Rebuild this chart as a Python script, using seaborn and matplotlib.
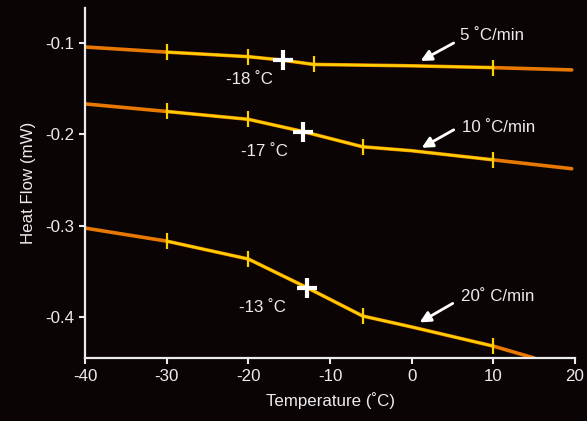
import numpy as np
import pandas as pd
import matplotlib
matplotlib.use("Agg")
import matplotlib.pyplot as plt
import seaborn as sns

# ---- data ----
rates = ["5 ˚C/min", "10 ˚C/min", "20˚ C/min"]
temp_5 = [-40, -30, -20, -16, -12, 0, 10, 19.6]
flow_5 = [-0.1044, -0.110, -0.115, -0.1186, -0.1235, -0.125, -0.127, -0.1295]
temp_10 = [-40, -30, -20, -13.3, -6, 0, 10, 19.6]
flow_10 = [-0.1667, -0.175, -0.1836, -0.197, -0.2137, -0.218, -0.228, -0.2377]
temp_20 = [-40, -30, -20, -12.8, -6, 0, 10, 15]
flow_20 = [-0.3027, -0.317, -0.3366, -0.368, -0.399, -0.411, -0.432, -0.445]

# analysis tick marks on the curves
mark_t_5 = [-30, -20, -12, 10]
mark_f_5 = [-0.110, -0.115, -0.1235, -0.127]
mark_t_10 = [-30, -20, -6, 10]
mark_f_10 = [-0.175, -0.1836, -0.2137, -0.228]
mark_t_20 = [-30, -20, -6, 10]
mark_f_20 = [-0.317, -0.3366, -0.399, -0.432]

# glass transition points
tg_t = [-15.8, -13.3, -12.8]
tg_f = [-0.1186, -0.197, -0.368]
tg_labels = ["-18 ˚C", "-17 ˚C", "-13 ˚C"]

x_ticks = [-40, -30, -20, -10, 0, 10, 20]
y_ticks = [-0.1, -0.2, -0.3, -0.4]

BG = "#0a0405"
FG = "#ececec"
ORANGE = "#e87800"
YELLOW = "#ffd000"
FS = 12.2

sns.set_theme(style="ticks")
plt.rcParams["font.family"] = ["Liberation Sans", "DejaVu Sans"]

fig = plt.figure(figsize=(5.87, 4.21), dpi=100, facecolor=BG)
ax = fig.add_axes([85/587, 1-358/421, 490/587, 350/421])
ax.set_facecolor(BG)

series = [(temp_5, flow_5, mark_t_5, mark_f_5),
          (temp_10, flow_10, mark_t_10, mark_f_10),
          (temp_20, flow_20, mark_t_20, mark_f_20)]

for t, f, mt, mf in series:
    df = pd.DataFrame({"t": t, "f": f})
    sns.lineplot(data=df, x="t", y="f", ax=ax, color=ORANGE, lw=2.6, sort=False)
    sub = df[(df.t >= -30) & (df.t <= 10)]
    sns.lineplot(data=sub, x="t", y="f", ax=ax, color=YELLOW, lw=1.8, sort=False)
    ax.plot(mt, mf, ls="none", marker="|", ms=11, mew=1.6, color=YELLOW)

ax.plot(tg_t, tg_f, ls="none", marker="+", ms=14, mew=3, color="white", zorder=5)

label_pos = [(-19.9, -0.1404), (-18.0, -0.2191), (-18.3, -0.3896)]
for (x, y), s in zip(label_pos, tg_labels):
    ax.text(x, y, s, color=FG, fontsize=FS, ha="center", va="center")

rate_pos = [(9.8, -0.0913), (10.7, -0.193), (10.55, -0.3776)]
arrows = [((5.15, -0.100), (1.1, -0.1197)),
          ((5.15, -0.1951), (1.23, -0.2148)),
          ((5.03, -0.3852), (0.98, -0.406))]
for (x, y), s, (start, end) in zip(rate_pos, rates, arrows):
    ax.text(x, y, s, color=FG, fontsize=FS, ha="center", va="center")
    ax.annotate("", xy=end, xytext=start,
                arrowprops=dict(arrowstyle="-|>", color="white", lw=2,
                                mutation_scale=16, shrinkA=0, shrinkB=0))

ax.set_xlim(-40, 20)
ax.set_ylim(-0.445, -0.0617)
ax.set_xticks(x_ticks)
ax.set_yticks(y_ticks)
ax.set_xticklabels([str(v) for v in x_ticks])
ax.set_yticklabels([str(v) for v in y_ticks])
ax.tick_params(colors=FG, labelsize=FS, width=1.5, length=4, direction="out", pad=4)
for side in ["top", "right"]:
    ax.spines[side].set_visible(False)
for side in ["left", "bottom"]:
    ax.spines[side].set_color(FG)
    ax.spines[side].set_linewidth(1.6)

ax.set_xlabel("Temperature (˚C)", color=FG, fontsize=FS, labelpad=6)
ax.set_ylabel("Heat Flow (mW)", color=FG, fontsize=FS, labelpad=6)

fig.savefig("out.png", dpi=100, facecolor=BG)
